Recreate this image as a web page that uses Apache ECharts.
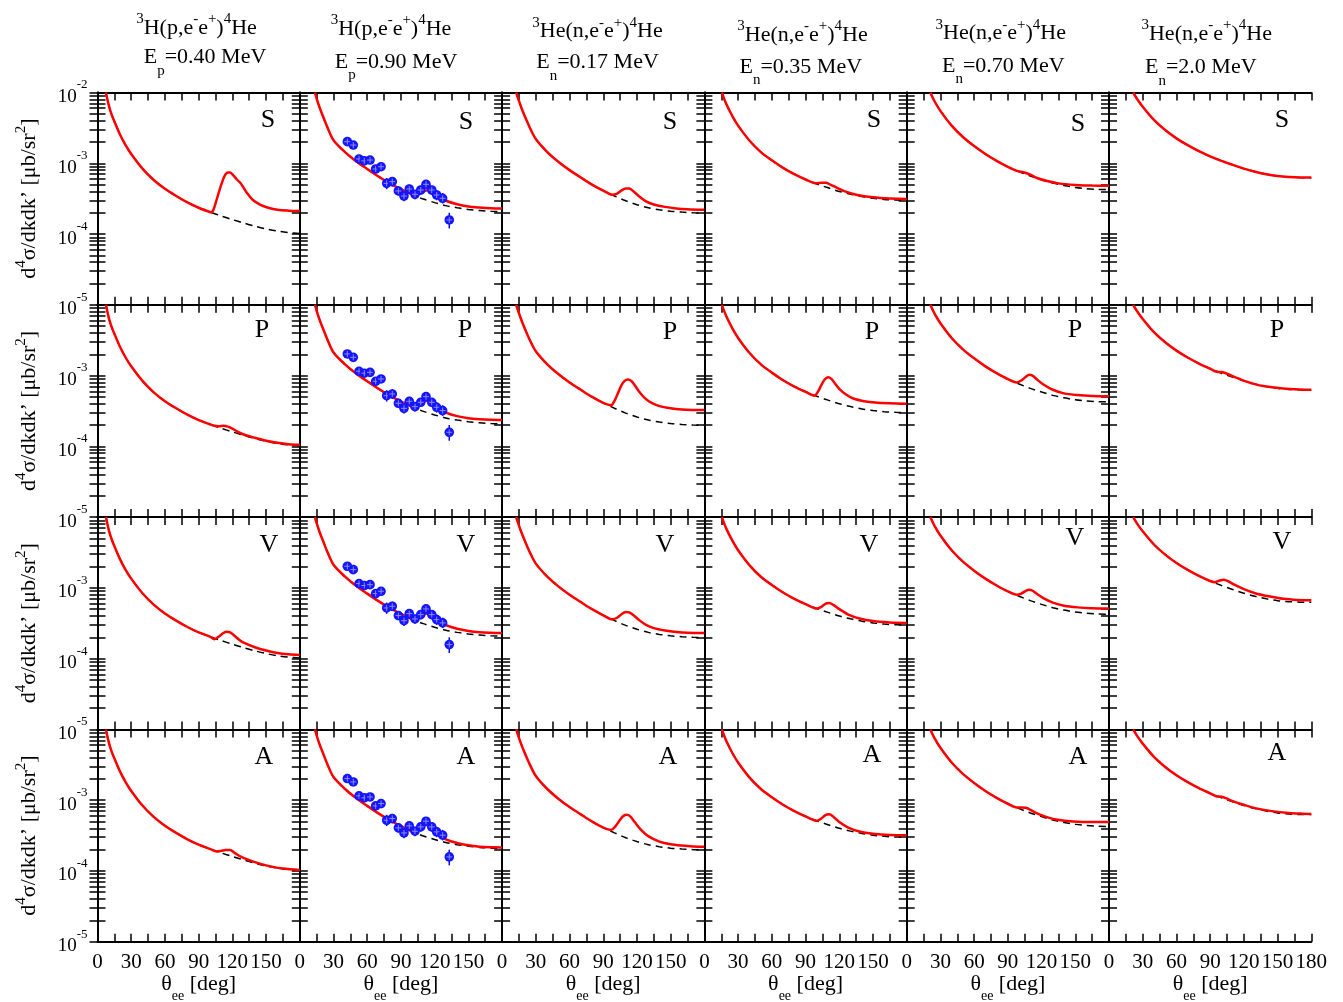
<!DOCTYPE html>
<html>
<head>
<meta charset="utf-8">
<script src="https://cdn.jsdelivr.net/npm/echarts@6/dist/echarts.min.js"></script>
<style>
html, body { margin: 0; padding: 0; background: #fff; }
#main { width: 1343px; height: 1002px; }
</style>
</head>
<body>
<div id="main"></div>
<script>
var FONT = '"Liberation Serif", "Times New Roman", serif';

// column headers
var targets = ['H', 'H', 'He', 'He', 'He', 'He'];
var beams = ['p', 'p', 'n', 'n', 'n', 'n'];
var energies = ['0.40', '0.90', '0.17', '0.35', '0.70', '2.0'];
var rowNames = ['S', 'P', 'V', 'A'];
var xLabels = [0, 30, 60, 90, 120, 150, 180];
var yLabels = [1e-5, 1e-4, 1e-3, 1e-2];

// dashed curves (same in every row of a column), [theta, value]
var bg1 = [[7.5,1e-2],[10,6.6e-3],[12.5,4.9e-3],[15,3.9e-3],[20,2.55e-3],[25,1.8e-3],[30,1.35e-3],[40,8.4e-4],[50,5.8e-4],[60,4.35e-4],[70,3.45e-4],[80,2.8e-4],[90,2.35e-4],[100,2.05e-4],[110,1.8e-4],[120,1.6e-4],[130,1.43e-4],[140,1.29e-4],[150,1.18e-4],[160,1.1e-4],[170,1.05e-4],[180,1.02e-4]];
var bg2 = [[13.5,1e-2],[15,8.2e-3],[17.5,6.2e-3],[20,4.9e-3],[25,3.1e-3],[30,2.12e-3],[40,1.45e-3],[50,1.07e-3],[60,8.3e-4],[70,6.5e-4],[80,5.2e-4],[90,4.3e-4],[100,3.6e-4],[110,3.12e-4],[120,2.78e-4],[130,2.52e-4],[140,2.35e-4],[150,2.23e-4],[160,2.15e-4],[170,2.1e-4],[180,2.07e-4]];
var bg3 = [[12.5,1e-2],[15,7.6e-3],[17.5,5.9e-3],[20,4.7e-3],[25,3.1e-3],[30,2.2e-3],[40,1.45e-3],[50,1.05e-3],[60,8.0e-4],[70,6.3e-4],[80,5.0e-4],[90,4.1e-4],[100,3.45e-4],[110,2.95e-4],[120,2.6e-4],[130,2.35e-4],[140,2.2e-4],[150,2.1e-4],[160,2.04e-4],[170,2.0e-4],[180,1.98e-4]];
var bg4 = [[15.5,1e-2],[17.5,8.2e-3],[20,6.6e-3],[25,4.6e-3],[30,3.4e-3],[40,2.1e-3],[50,1.45e-3],[60,1.1e-3],[70,8.6e-4],[80,7.0e-4],[90,5.9e-4],[100,5.1e-4],[110,4.5e-4],[120,4.0e-4],[130,3.65e-4],[140,3.38e-4],[150,3.2e-4],[160,3.08e-4],[170,3.02e-4],[180,3.0e-4]];
var bg5 = [[21,1e-2],[25,7.4e-3],[30,5.5e-3],[40,3.4e-3],[50,2.35e-3],[60,1.75e-3],[70,1.35e-3],[80,1.08e-3],[90,8.9e-4],[100,7.6e-4],[110,6.6e-4],[120,5.85e-4],[130,5.25e-4],[140,4.85e-4],[150,4.55e-4],[160,4.38e-4],[170,4.28e-4],[180,4.25e-4]];
var bg6 = [[21.5,1e-2],[25,8.1e-3],[30,6.3e-3],[40,4.1e-3],[50,2.95e-3],[60,2.25e-3],[70,1.8e-3],[80,1.48e-3],[90,1.25e-3],[100,1.08e-3],[110,9.5e-4],[120,8.4e-4],[130,7.6e-4],[140,7.0e-4],[150,6.6e-4],[160,6.38e-4],[170,6.28e-4],[180,6.25e-4]];

// red curves: the part after they leave the dashed curve
var s1 = [[101.6,2.03e-4],[104,2.4e-4],[106,3.05e-4],[108,3.9e-4],[110.5,5.2e-4],[113,6.6e-4],[116,7.4e-4],[118,7.4e-4],[121,6.7e-4],[124,5.9e-4],[127,5.3e-4],[130,4.5e-4],[133,3.8e-4],[138,3.05e-4],[145,2.58e-4],[152,2.35e-4],[160,2.2e-4],[170,2.14e-4],[180,2.12e-4]];
var p1 = [[104,1.95e-4],[108,1.92e-4],[112,1.95e-4],[116,1.9e-4],[120,1.78e-4],[125,1.6e-4],[130,1.47e-4],[140,1.32e-4],[150,1.2e-4],[160,1.12e-4],[170,1.07e-4],[180,1.05e-4]];
var v1 = [[104,1.88e-4],[108,2.05e-4],[112,2.3e-4],[115,2.4e-4],[118,2.35e-4],[122,2.1e-4],[126,1.85e-4],[130,1.68e-4],[140,1.45e-4],[150,1.3e-4],[160,1.2e-4],[170,1.15e-4],[180,1.13e-4]];
var a1 = [[106,1.88e-4],[110,1.92e-4],[114,1.98e-4],[118,1.98e-4],[122,1.8e-4],[127,1.6e-4],[135,1.42e-4],[145,1.26e-4],[155,1.15e-4],[165,1.08e-4],[180,1.03e-4]];
var s2 = [[102,3.5e-4],[105,3.6e-4],[108,3.8e-4],[112,4.1e-4],[115,4.18e-4],[118,4.05e-4],[122,3.7e-4],[126,3.2e-4],[130,2.95e-4],[140,2.63e-4],[150,2.45e-4],[160,2.37e-4],[170,2.32e-4],[180,2.3e-4]];
var p2 = [[102,3.5e-4],[105,3.7e-4],[108,4.0e-4],[112,4.4e-4],[115,4.5e-4],[118,4.3e-4],[122,3.8e-4],[126,3.3e-4],[130,3.0e-4],[140,2.67e-4],[150,2.5e-4],[160,2.42e-4],[170,2.38e-4],[180,2.36e-4]];
var v2 = [[102,3.5e-4],[105,3.65e-4],[108,3.95e-4],[112,4.3e-4],[115,4.4e-4],[118,4.2e-4],[122,3.75e-4],[126,3.25e-4],[130,2.97e-4],[140,2.64e-4],[150,2.46e-4],[160,2.36e-4],[170,2.32e-4],[180,2.3e-4]];
var a2 = [[102,3.5e-4],[105,3.7e-4],[108,4.05e-4],[112,4.45e-4],[115,4.5e-4],[118,4.2e-4],[122,3.6e-4],[126,3.1e-4],[130,2.8e-4],[140,2.48e-4],[150,2.3e-4],[160,2.2e-4],[170,2.16e-4],[180,2.15e-4]];
var s3 = [[98,3.6e-4],[102,3.7e-4],[106,4.1e-4],[110,4.4e-4],[113,4.4e-4],[117,4.0e-4],[122,3.4e-4],[128,2.9e-4],[135,2.62e-4],[145,2.42e-4],[155,2.3e-4],[165,2.24e-4],[180,2.2e-4]];
var p3 = [[97,3.8e-4],[100,4.4e-4],[103,5.6e-4],[106,7.2e-4],[109,8.4e-4],[112,8.8e-4],[115,8.4e-4],[118,7.3e-4],[122,5.9e-4],[127,4.8e-4],[133,4.1e-4],[140,3.7e-4],[150,3.45e-4],[160,3.32e-4],[170,3.27e-4],[180,3.25e-4]];
var v3 = [[98,3.6e-4],[102,3.75e-4],[106,4.2e-4],[110,4.55e-4],[113,4.5e-4],[117,4.1e-4],[122,3.5e-4],[128,3.0e-4],[135,2.7e-4],[145,2.5e-4],[155,2.38e-4],[165,2.32e-4],[180,2.3e-4]];
var a3 = [[97,3.8e-4],[101,4.3e-4],[105,5.3e-4],[108,6.0e-4],[111,6.2e-4],[114,5.9e-4],[118,4.9e-4],[123,3.9e-4],[130,3.1e-4],[140,2.6e-4],[150,2.38e-4],[160,2.28e-4],[170,2.22e-4],[180,2.2e-4]];
var s4 = [[100,5.2e-4],[104,5.3e-4],[108,5.3e-4],[112,5.0e-4],[118,4.5e-4],[125,4.0e-4],[135,3.6e-4],[150,3.3e-4],[165,3.17e-4],[180,3.13e-4]];
var p4 = [[98,5.2e-4],[101,5.9e-4],[104,7.3e-4],[107,8.8e-4],[110,9.5e-4],[113,9.0e-4],[116,7.8e-4],[120,6.5e-4],[126,5.4e-4],[133,4.7e-4],[142,4.35e-4],[152,4.15e-4],[165,4.05e-4],[180,4.0e-4]];
var v4 = [[100,5.1e-4],[104,5.4e-4],[108,6.0e-4],[111,6.1e-4],[115,5.7e-4],[120,5.0e-4],[128,4.2e-4],[138,3.7e-4],[150,3.4e-4],[165,3.25e-4],[180,3.2e-4]];
var a4 = [[100,5.1e-4],[104,5.5e-4],[108,6.2e-4],[111,6.3e-4],[115,5.8e-4],[120,4.9e-4],[128,4.1e-4],[138,3.6e-4],[150,3.35e-4],[165,3.22e-4],[180,3.2e-4]];
var s5 = [[98,7.8e-4],[102,7.6e-4],[106,7.3e-4],[110,6.9e-4],[116,6.2e-4],[125,5.6e-4],[135,5.2e-4],[150,4.95e-4],[165,4.85e-4],[180,4.8e-4]];
var p5 = [[98,8e-4],[102,8.5e-4],[106,9.6e-4],[109,1.03e-3],[112,1.0e-3],[116,8.8e-4],[122,7.4e-4],[130,6.3e-4],[140,5.6e-4],[152,5.3e-4],[165,5.15e-4],[180,5.1e-4]];
var v5 = [[98,8e-4],[102,8.3e-4],[106,9.1e-4],[109,9.4e-4],[112,9.1e-4],[116,8.2e-4],[122,7.1e-4],[130,6.2e-4],[140,5.6e-4],[152,5.3e-4],[165,5.15e-4],[180,5.1e-4]];
var a5 = [[98,7.9e-4],[102,7.9e-4],[106,7.8e-4],[110,7.3e-4],[116,6.5e-4],[124,5.8e-4],[134,5.3e-4],[148,5.0e-4],[165,4.9e-4],[180,4.9e-4]];
var s6 = [[180,6.3e-4]];
var p6 = [[96,1.13e-3],[100,1.12e-3],[104,1.08e-3],[110,9.8e-4],[118,8.7e-4],[128,7.7e-4],[140,7.0e-4],[155,6.55e-4],[170,6.35e-4],[180,6.3e-4]];
var v6 = [[94,1.2e-3],[98,1.26e-3],[102,1.3e-3],[106,1.24e-3],[112,1.1e-3],[120,9.6e-4],[130,8.4e-4],[142,7.6e-4],[155,7.0e-4],[168,6.75e-4],[180,6.7e-4]];
var a6 = [[96,1.13e-3],[100,1.12e-3],[104,1.07e-3],[110,9.7e-4],[120,8.6e-4],[132,7.6e-4],[145,7.0e-4],[160,6.6e-4],[172,6.45e-4],[180,6.4e-4]];

// measured points (second column): theta, value, error bar ends
var ptTheta = [42.3, 47.6, 52.7, 57.4, 62.5, 67.5, 72.3, 77.3, 82.3, 87.7, 92.7, 97.4, 102.5, 107.6, 112.3, 117.4, 121.8, 127.1, 133];
var ptVal = [2.02e-3, 1.81e-3, 1.15e-3, 1.08e-3, 1.11e-3, 8.3e-4, 8.95e-4, 5.2e-4, 5.5e-4, 4.06e-4, 3.44e-4, 4.33e-4, 3.64e-4, 4.19e-4, 5.04e-4, 4.19e-4, 3.56e-4, 3.2e-4, 1.58e-4];
var ptLo = [1.95e-3, 1.74e-3, 1.1e-3, 1.03e-3, 1.06e-3, 7.9e-4, 8.5e-4, 4.3e-4, 4.7e-4, 3.5e-4, 2.9e-4, 3.7e-4, 3.1e-4, 3.6e-4, 4.4e-4, 3.6e-4, 3.0e-4, 2.7e-4, 1.2e-4];
var ptHi = [2.1e-3, 1.88e-3, 1.2e-3, 1.13e-3, 1.16e-3, 8.7e-4, 9.4e-4, 6.2e-4, 6.4e-4, 4.7e-4, 4.0e-4, 5.0e-4, 4.2e-4, 4.8e-4, 5.7e-4, 4.8e-4, 4.2e-4, 3.8e-4, 2.0e-4];

var bgs = [bg1, bg2, bg3, bg4, bg5, bg6];
var reds = [[s1, s2, s3, s4, s5, s6], [p1, p2, p3, p4, p5, p6], [v1, v2, v3, v4, v5, v6], [a1, a2, a3, a4, a5, a6]];

// red = dashed curve until the tail starts
function joinCurve(bg, tail) {
    return bg.filter(function (p) { return p[0] < tail[0][0]; }).concat(tail);
}

// log ticks 1..9 per decade
var yTicks = [];
for (var d = -5; d < -2; d++) {
    for (var m = 1; m < 10; m++) {
        yTicks.push(+(m * Math.pow(10, d)).toPrecision(3));
    }
}
yTicks.push(1e-2);

// layout
var L0 = 97.5, T0 = 92.5, PW = 202.3, PH = 212.3;
var title1X = [196.5, 391, 597.5, 802.5, 1000.8, 1206.7];
var title1Y = [28.3, 29, 31.7, 35, 33.7, 34.2];
var title2X = [205, 396, 597.5, 800.8, 1003.3, 1200.8];
var title2Y = [57.5, 62, 62.5, 67, 65.8, 67.5];
var letterX = [[268, 466, 670, 874, 1078, 1282], [262, 465, 670, 872, 1075, 1277], [269, 466, 665, 869, 1075, 1282], [264, 466, 668, 872, 1078, 1277]];
var letterY = [[120, 122, 122, 120, 124, 120], [330, 330, 332, 332, 330, 330], [545, 545, 545, 545, 538, 542], [757, 757, 757, 755, 757, 753]];

function axisLine() { return { lineStyle: { color: '#000', width: 2 } }; }
function tick(cv) {
    var t = { inside: true, length: 8, lineStyle: { color: '#000', width: 1.5 } };
    if (cv) t.customValues = yTicks.slice();
    return t;
}

function buildOption() {
    var grids = [], xAxes = [], yAxes = [], series = [], graphics = [];
    for (var r = 0; r < 4; r++) {
        for (var c = 0; c < 6; c++) {
            var i = r * 6 + c;
            var gx = L0 + c * PW, gy = T0 + r * PH;
            grids.push({ left: gx, top: gy, width: PW, height: PH, containLabel: false, outerBoundsMode: 'none' });
            xAxes.push({
                gridIndex: i, type: 'value', min: 0, max: 180, interval: 15, position: 'bottom',
                axisLine: axisLine(), axisTick: tick(false), splitLine: { show: false },
                axisLabel: {
                    show: r === 3, margin: 10, fontSize: 21, fontFamily: FONT, color: '#000',
                    formatter: (function (lc) {
                        return function (v) {
                            return (xLabels.indexOf(v) >= 0 && (v < 180 || lc)) ? String(v) : '';
                        };
                    })(c === 5)
                },
                name: r === 3 ? '{t|θ}{s|ee}{t| [deg]}' : '',
                nameLocation: 'middle', nameGap: 23,
                nameTextStyle: {
                    rich: {
                        t: { fontSize: 22, fontFamily: FONT, color: '#000', lineHeight: 38 },
                        s: { fontSize: 14, fontFamily: FONT, color: '#000', verticalAlign: 'bottom' }
                    }
                }
            });
            xAxes.push({
                gridIndex: i, type: 'value', min: 0, max: 180, interval: 15, position: 'top',
                axisLine: axisLine(), axisTick: tick(false), axisLabel: { show: false }, splitLine: { show: false }
            });
            yAxes.push({
                gridIndex: i, type: 'log', logBase: 10, min: 1e-5, max: 1e-2, position: 'left',
                axisLine: axisLine(), axisTick: tick(true),
                splitLine: { show: false },
                axisLabel: {
                    show: c === 0, margin: 10,
                    customValues: r === 0 ? yLabels.slice() : yLabels.slice(0, 3),
                    formatter: function (v) {
                        return '{b|10}{e|' + Math.round(Math.log(v) / Math.LN10) + '}';
                    },
                    rich: {
                        b: { fontSize: 19, fontFamily: FONT, color: '#000', verticalAlign: 'bottom' },
                        e: { fontSize: 13, fontFamily: FONT, color: '#000', lineHeight: 28, verticalAlign: 'top' }
                    }
                },
                name: c === 0 ? '{b|d}{s|4}{b|σ/dkdk’ [μb/sr}{s|2}{b|]}' : '',
                nameLocation: 'middle', nameRotate: 90, nameGap: 52,
                nameTextStyle: {
                    rich: {
                        b: { fontSize: 22, fontFamily: FONT, color: '#000', lineHeight: 32 },
                        s: { fontSize: 15, fontFamily: FONT, color: '#000', verticalAlign: 'top' }
                    }
                }
            });
            yAxes.push({
                gridIndex: i, type: 'log', logBase: 10, min: 1e-5, max: 1e-2, position: 'right',
                axisLine: axisLine(), axisTick: tick(true),
                axisLabel: { show: false }, splitLine: { show: false }
            });

            series.push({
                type: 'line', xAxisIndex: 2 * i, yAxisIndex: 2 * i, data: bgs[c].slice(),
                showSymbol: false, smooth: 0.3, silent: true, z: 2,
                lineStyle: { color: '#000', width: 1.5, type: [7, 5] }
            });
            series.push({
                type: 'line', xAxisIndex: 2 * i, yAxisIndex: 2 * i, data: joinCurve(bgs[c], reds[r][c]),
                showSymbol: false, smooth: 0.3, silent: true, z: 3,
                lineStyle: { color: '#ff0000', width: 2.5 }
            });
            if (c === 1) {
                series.push({
                    type: 'custom', xAxisIndex: 2 * i, yAxisIndex: 2 * i, z: 4, silent: true,
                    data: ptTheta.map(function (t, k) { return [t, ptVal[k], ptLo[k], ptHi[k]]; }),
                    encode: { x: 0, y: 1 },
                    renderItem: function (params, api) {
                        var p = api.coord([api.value(0), api.value(1)]);
                        var lo = api.coord([api.value(0), api.value(2)]);
                        var hi = api.coord([api.value(0), api.value(3)]);
                        return {
                            type: 'group', children: [
                                { type: 'line', shape: { x1: p[0], y1: lo[1], x2: p[0], y2: hi[1] }, style: { stroke: '#0000ff', lineWidth: 1.5 } },
                                { type: 'circle', shape: { cx: p[0], cy: p[1], r: 4.8 }, style: { fill: '#1414ff' } },
                                { type: 'line', shape: { x1: p[0] - 3, y1: p[1], x2: p[0] + 3, y2: p[1] }, style: { stroke: '#8c8cff', lineWidth: 1 } },
                                { type: 'line', shape: { x1: p[0], y1: p[1] - 3, x2: p[0], y2: p[1] + 3 }, style: { stroke: '#8c8cff', lineWidth: 1 } }
                            ]
                        };
                    }
                });
            }

            graphics.push({
                type: 'text', x: letterX[r][c], y: letterY[r][c], silent: true,
                style: { text: rowNames[r], align: 'center', verticalAlign: 'middle', fontSize: 26, fontFamily: FONT, fill: '#000' }
            });
        }
    }

    for (var k = 0; k < 6; k++) {
        graphics.push({
            type: 'text', x: title1X[k], y: title1Y[k] - 16.5, silent: true,
            style: {
                text: '{s|3}{b|' + targets[k] + '(' + beams[k] + ',e}{s|-}{b|e}{s|+}{b|)}{s|4}{b|He}',
                align: 'center', verticalAlign: 'top',
                rich: {
                    b: { fontSize: 22, fontFamily: FONT, fill: '#000', lineHeight: 33 },
                    s: { fontSize: 15, fontFamily: FONT, fill: '#000', verticalAlign: 'top' }
                }
            }
        });
        graphics.push({
            type: 'text', x: title2X[k], y: title2Y[k] - 21, silent: true,
            style: {
                text: '{b|E}{s|' + beams[k] + '}{b|=' + energies[k] + ' MeV}',
                align: 'center', verticalAlign: 'top',
                rich: {
                    b: { fontSize: 22, fontFamily: FONT, fill: '#000', lineHeight: 42 },
                    s: { fontSize: 15, fontFamily: FONT, fill: '#000', verticalAlign: 'bottom' }
                }
            }
        });
    }

    return {
        animation: false,
        backgroundColor: '#fff',
        textStyle: { fontFamily: FONT, color: '#000' },
        grid: grids,
        xAxis: xAxes,
        yAxis: yAxes,
        series: series,
        graphic: graphics
    };
}

var myChart = echarts.init(document.getElementById('main'));
myChart.setOption(buildOption());
</script>
</body>
</html>
